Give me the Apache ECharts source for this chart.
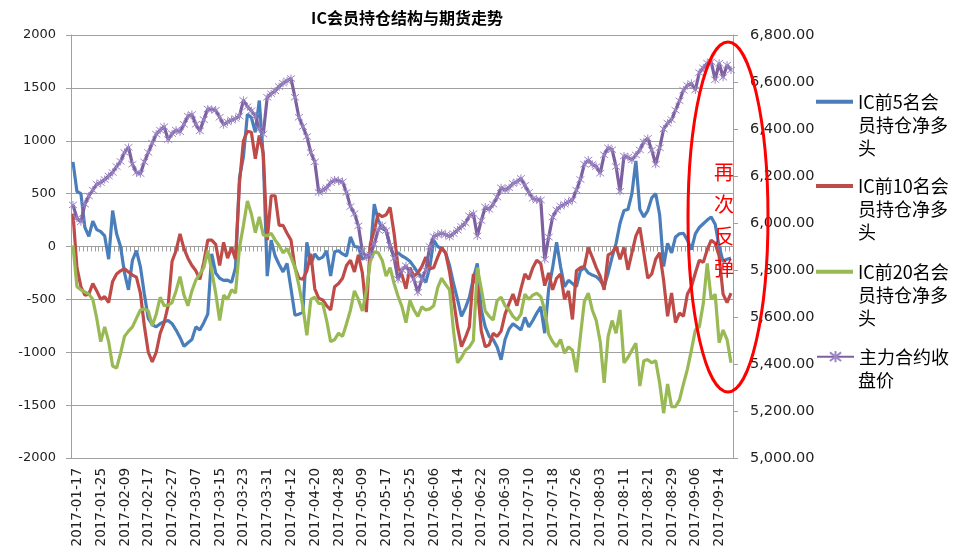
<!DOCTYPE html>
<html>
<head>
<meta charset="utf-8">
<script src="https://cdn.jsdelivr.net/npm/echarts@6/dist/echarts.min.js"></script>
<style>html,body{margin:0;padding:0;background:#fff;}#c{width:966px;height:555px;}</style>
</head>
<body>
<div id="c"></div>
<script>
// trading days (month -> days), 2017
const tradingDays = {
  '01': [17,18,19,20,23,24,25,26],
  '02': [3,6,7,8,9,10,13,14,15,16,17,20,21,22,23,24,27,28],
  '03': [1,2,3,6,7,8,9,10,13,14,15,16,17,20,21,22,23,24,27,28,29,30,31],
  '04': [5,6,7,10,11,12,13,14,17,18,19,20,21,24,25,26,27,28],
  '05': [2,3,4,5,8,9,10,11,12,15,16,17,18,19,22,23,24,25,26,31],
  '06': [1,2,5,6,7,8,9,12,13,14,15,16,19,20,21,22,23,26,27,28,29,30],
  '07': [3,4,5,6,7,10,11,12,13,14,17,18,19,20,21,24,25,26,27,28,31],
  '08': [1,2,3,4,7,8,9,10,11,14,15,16,17,18,21,22,23,24,25,28,29,30,31],
  '09': [1,4,5,6,7,8,11,12,13,14,15,18,19,20]
};
const categories = [];
Object.keys(tradingDays).forEach(m => tradingDays[m].forEach(d => categories.push('2017-' + m + '-' + (d < 10 ? '0' + d : '' + d))));

const seriesNames = ['IC前5名会员持仓净多头', 'IC前10名会员持仓净多头', 'IC前20名会员持仓净多头', '主力合约收盘价'];
const legendLines = [['IC前5名会', '员持仓净多', '头'], ['IC前10名会', '员持仓净多', '头'], ['IC前20名会', '员持仓净多', '头'], ['主力合约收', '盘价']];

const top5 = [
  800,520,500,180,95,240,160,140,100,-120,
  340,120,0,-250,-410,-130,-40,-190,-450,-680,
  -740,-760,-730,-710,-700,-730,-790,-860,-945,-910,
  -880,-760,-790,-720,-640,-70,-250,-300,-320,-318,
  -340,-200,650,850,1250,1220,1080,1380,850,-280,
  60,-90,-170,-240,-160,-400,-650,-640,-620,40,
  -170,-70,-120,-100,-40,-280,-50,-40,-70,-90,
  90,0,-5,-120,-100,-60,400,250,170,150,
  0,-90,-60,-90,-110,-140,-190,-250,-290,-340,
  -200,60,0,-20,-60,-180,-350,-500,-660,-580,
  -480,-300,-160,-600,-760,-850,-880,-950,-1070,-880,
  -780,-730,-760,-790,-670,-760,-700,-630,-570,-820,
  -400,-200,40,-190,-380,-320,-350,-380,-230,-200,
  -250,-270,-285,-320,-380,-250,-100,30,220,340,
  350,500,810,350,280,340,460,500,300,-190,
  30,-60,90,120,125,60,-30,120,180,215,
  250,280,210,0,-140,-120,-110
];
const top10 = [
  310,-200,-380,-460,-450,-350,-420,-500,-474,-530,
  -330,-260,-230,-210,-240,-270,-290,-440,-750,-1000,
  -1090,-1000,-820,-720,-560,-140,-40,120,-20,-110,
  -180,-230,-310,-150,60,60,20,-180,40,-110,
  -10,-120,600,1000,1090,1080,830,1050,880,60,
  480,480,200,200,125,60,-200,-300,-310,-230,
  -70,-400,-490,-506,-560,-600,-380,-350,-300,-180,
  -130,-240,-80,-250,-620,20,150,310,282,300,
  370,125,-190,-270,-400,-200,-280,-250,-190,-100,
  -210,-200,-100,-10,-60,-240,-500,-760,-947,-860,
  -760,-260,-380,-800,-950,-930,-820,-850,-800,-640,
  -540,-450,-560,-400,-260,-310,-200,-130,-160,-370,
  -250,-410,-300,-260,-500,-420,-690,-230,-200,-190,
  -10,-100,-200,-280,-410,-80,-60,0,-120,-10,
  -220,-60,100,180,-60,-300,-260,-120,-60,-320,
  -660,-440,-720,-630,-660,-450,-380,-250,-130,-150,
  -30,60,30,-90,-450,-530,-440
];
const top20 = [
  10,-380,-410,-430,-450,-500,-680,-900,-760,-900,
  -1130,-1150,-1010,-850,-800,-760,-680,-600,-590,-610,
  -750,-640,-480,-560,-555,-530,-420,-285,-460,-560,
  -420,-317,-260,-200,-40,-230,-440,-700,-460,-500,
  -410,-440,-10,200,430,310,130,280,110,100,
  125,60,10,-60,-20,-100,-200,-370,-570,-840,
  -500,-480,-537,-540,-700,-900,-880,-820,-850,-730,
  -600,-420,-500,-610,-420,-140,-50,-60,-130,-280,
  -200,-350,-470,-570,-720,-510,-600,-660,-570,-600,
  -590,-560,-390,-300,-360,-410,-800,-1100,-1050,-980,
  -950,-890,-200,-400,-610,-660,-695,-510,-480,-560,
  -600,-660,-695,-640,-450,-500,-460,-442,-474,-600,
  -830,-900,-947,-880,-1009,-950,-980,-1190,-850,-520,
  -442,-600,-700,-900,-1290,-850,-700,-820,-600,-1100,
  -1050,-980,-915,-1320,-1080,-1070,-1100,-1080,-1290,-1576,
  -1300,-1514,-1514,-1450,-1300,-1160,-980,-790,-760,-540,
  -160,-500,-450,-910,-790,-880,-1100
];
const closePrice = [
  6077,6020,6005,6080,6115,6140,6165,6172,6185,6200,
  6215,6240,6262,6300,6322,6250,6215,6210,6260,6300,
  6340,6378,6395,6410,6355,6380,6395,6388,6420,6455,
  6462,6420,6392,6440,6485,6483,6480,6450,6418,6430,
  6438,6445,6455,6522,6495,6478,6455,6400,6378,6535,
  6550,6562,6580,6595,6605,6615,6535,6450,6410,6368,
  6300,6260,6130,6140,6150,6172,6183,6180,6175,6130,
  6070,6040,5988,5880,5855,5865,5910,5970,5990,5968,
  5905,5850,5760,5800,5818,5790,5760,5705,5760,5800,
  5900,5942,5950,5957,5950,5942,5955,5970,5985,6000,
  6030,6040,5945,6010,6068,6058,6080,6110,6150,6140,
  6150,6168,6175,6190,6160,6130,6105,6098,6098,5845,
  5940,6025,6055,6072,6080,6090,6098,6140,6185,6250,
  6268,6250,6240,6212,6290,6320,6312,6240,6135,6285,
  6280,6268,6290,6311,6345,6360,6310,6250,6320,6400,
  6425,6440,6480,6520,6565,6585,6594,6566,6640,6660,
  6680,6686,6610,6680,6620,6672,6651
];

const leftTicks = {min: -2000, max: 2000, interval: 500};
const rightTicks = {min: 5000, max: 6800, interval: 200};

const colors = ['#4A7EBB', '#BE4B48', '#98B954', '#7D60A0'];
const starPath = 'path://M0,0L10,10M10,0L0,10M5,-1.5L5,11.5';

const chart = echarts.init(document.getElementById('c'), null, {renderer: 'canvas'});

// legend layout
const legendIconY = [101.7, 186, 271.7, 356.7];
const LH = 23;
const legendFont = '"Noto Sans CJK SC"';
const legendSize = 18;
const legends = seriesNames.map((n, i) => ({
  orient: 'vertical',
  left: 816,
  top: legendIconY[i] - LH / 2,
  padding: 0,
  itemWidth: 37,
  itemHeight: i < 3 ? 4 : 14,
  data: [i < 3 ? {name: n, icon: 'rect'} : {name: n}],
  formatter: () => legendLines[i][0],
  textStyle: {fontFamily: legendFont, fontSize: legendSize, color: '#000', lineHeight: LH},
  selectedMode: false
}));
const legendExtra = [];
legendLines.forEach((lines, i) => {
  lines.slice(1).forEach((t, k) => {
    legendExtra.push({
      type: 'text', left: 858, top: legendIconY[i] + (k + 1) * LH - LH / 2,
      style: {text: t, fill: '#000', font: legendSize + 'px ' + legendFont, lineHeight: LH, verticalAlign: 'top'}
    });
  });
});

const axisGray = '#A0A0A0';

chart.setOption({
  animation: false,
  backgroundColor: '#fff',
  color: colors,
  title: {
    text: 'IC会员持仓结构与期货走势',
    left: 402,
    textAlign: 'center',
    top: 5,
    textStyle: {fontFamily: '"Noto Sans CJK SC"', fontSize: 16, fontWeight: 'bold', color: '#000'}
  },
  legend: legends,
  grid: {left: 71, right: 233, top: 35, bottom: 97, containLabel: false},
  xAxis: [
    {
      type: 'category',
      data: categories,
      position: 'bottom',
      boundaryGap: true,
      axisLine: {show: false, onZero: false},
      axisTick: {show: false},
      splitLine: {show: false},
      axisLabel: {
        interval: 5,
        rotate: 90,
        margin: 10,
        verticalAlign: 'top',
        lineHeight: 9,
        fontFamily: '"DejaVu Sans"',
        fontSize: 13.5,
        color: '#222'
      }
    },
    {
      type: 'category',
      data: categories,
      position: 'top',
      boundaryGap: true,
      axisLine: {show: true, onZero: true, onZeroAxisIndex: 0, lineStyle: {color: axisGray, width: 1}},
      axisTick: {show: true, inside: true, interval: 0, length: 5, lineStyle: {color: axisGray}},
      axisLabel: {show: false},
      splitLine: {show: false}
    }
  ],
  yAxis: [
    {
      type: 'value',
      min: leftTicks.min, max: leftTicks.max, interval: leftTicks.interval,
      position: 'left',
      axisLine: {show: true, lineStyle: {color: axisGray}},
      axisTick: {show: true, length: 5, lineStyle: {color: axisGray}},
      splitLine: {show: true, lineStyle: {color: axisGray, width: 1}},
      axisLabel: {fontFamily: '"DejaVu Sans"', fontSize: 13, color: '#222', margin: 15, formatter: v => String(v)}
    },
    {
      type: 'value',
      min: rightTicks.min, max: rightTicks.max, interval: rightTicks.interval,
      position: 'right',
      axisLine: {show: true, lineStyle: {color: axisGray}},
      axisTick: {show: true, length: 5, lineStyle: {color: axisGray}},
      splitLine: {show: false},
      axisLabel: {
        fontFamily: '"DejaVu Sans"', fontSize: 14.5, color: '#222', margin: 17,
        formatter: v => v.toLocaleString('en-US', {minimumFractionDigits: 2, maximumFractionDigits: 2})
      }
    }
  ],
  series: [
    {name: seriesNames[0], type: 'line', data: top5, yAxisIndex: 0, symbol: 'none', lineStyle: {width: 3.2, color: colors[0]}, itemStyle: {color: colors[0]}, z: 2},
    {name: seriesNames[1], type: 'line', data: top10, yAxisIndex: 0, symbol: 'none', lineStyle: {width: 3.2, color: colors[1]}, itemStyle: {color: colors[1]}, z: 3},
    {name: seriesNames[2], type: 'line', data: top20, yAxisIndex: 0, symbol: 'none', lineStyle: {width: 3.2, color: colors[2]}, itemStyle: {color: colors[2]}, z: 4},
    {name: seriesNames[3], type: 'line', data: closePrice, yAxisIndex: 1, symbol: starPath, symbolSize: 8, showSymbol: true, showAllSymbol: true,
      lineStyle: {width: 3.2, color: colors[3]}, itemStyle: {color: colors[3], borderColor: '#9C86C6', borderWidth: 1}, z: 5}
  ],
  graphic: legendExtra.concat([
    {type: 'ellipse', z: 100, shape: {cx: 728, cy: 217, rx: 40, ry: 175}, style: {fill: null, stroke: '#FF0000', lineWidth: 3}},
    {type: 'text', z: 100, x: 724, y: 156, style: {text: '再\n次\n反\n弹', fill: '#FF0000', font: '20px "Noto Sans CJK SC"', lineHeight: 32, align: 'center', verticalAlign: 'top'}}
  ])
});
</script>
</body>
</html>
